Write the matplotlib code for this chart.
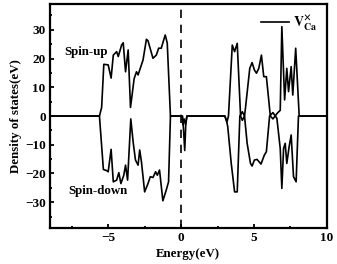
import matplotlib
matplotlib.use("Agg")
import matplotlib.pyplot as plt
from matplotlib.ticker import MultipleLocator

# spin-up DOS (energy in eV, states)
energy_up = [-9, -5.6, -5.45, -5.3, -5.0, -4.8, -4.65, -4.42, -4.31, -4.08, -3.97,
             -3.81, -3.63, -3.47, -3.22, -3.06, -2.95, -2.84, -2.61, -2.38, -2.27,
             -1.93, -1.7, -1.54, -1.36, -1.09, -0.95, -0.73, 0.05, 0.12, 0.2, 0.3,
             0.4, 3.0, 3.15, 3.25, 3.51, 3.67, 3.85, 4.08, 4.2, 4.35, 4.42, 4.71,
             4.87, 5.03, 5.17, 5.33, 5.51, 5.67, 5.85, 6.12, 6.3, 6.6, 6.8, 6.91,
             7.1, 7.25, 7.37, 7.55, 7.66, 7.86, 8.1, 10]
dos_up = [0, 0, 3, 18, 17.8, 13.2, 21.2, 22.4, 20.7, 24.7, 25.5,
          15.4, 23, 3, 13, 15.4, 14.3, 16, 19.5, 26.7, 26.2,
          20.1, 21.2, 23.6, 23.6, 28.2, 25.4, 0, 0, -3, -1, -3,
          0, 0, -2, 0, 24.7, 22.4, 25.3, 0, -1.5, 0, 3, 16.6,
          18.6, 16, 14.9, 16.6, 21.2, 13.7, 13.7, 0, -1, 1, 2, 31.1,
          5.6, 16.6, 8.5, 17.2, 7.3, 23.6, 0, 0]

# spin-down DOS
energy_down = [-9, -5.6, -5.33, -5.1, -5.0, -4.8, -4.65, -4.42, -4.27, -4.13, -3.93,
               -3.81, -3.67, -3.45, -3.29, -3.13, -2.95, -2.84, -2.72, -2.5, -2.27,
               -2.11, -1.93, -1.75, -1.63, -1.48, -1.25, -1.02, -0.86, -0.73, 0.1,
               0.17, 0.25, 0.32, 0.4, 3.0, 3.13, 3.2, 3.44, 3.67, 3.85, 4.03, 4.2,
               4.35, 4.53, 4.76, 4.87, 5.03, 5.21, 5.48, 5.71, 5.85, 6.07, 6.3, 6.57,
               6.8, 6.91, 7.03, 7.14, 7.25, 7.41, 7.55, 7.71, 7.89, 8.05, 10]
dos_down = [0, 0, -18.6, -19, -19.4, -11.6, -22.9, -22.3, -19.7, -23.5, -20.6,
            -17.1, -22.3, -1, -9, -15.3, -17.1, -11.8, -15.9, -26.4, -23.5,
            -21.1, -21.4, -19.4, -20.6, -18.8, -29.5, -25.8, -22.9, 0, 0,
            -5, -12, -3, 0, 0, -2, -3.7, -16.5, -26.4, -26.4, 0, 1.5,
            0, -9.5, -16.5, -17.4, -15.3, -15.1, -16.7, -13.6, -12.4, 0, 1.2, -0.8,
            -11.3, -25.2, -11.3, -9.5, -16.5, -10.7, -6.6, -21.1, -22.9, 0, 0]

plt.rcParams["font.family"] = "Liberation Serif"
plt.rcParams["font.weight"] = "bold"
plt.rcParams["mathtext.fontset"] = "stix"

fig = plt.figure(figsize=(3.37, 2.64), dpi=100)
ax = fig.add_axes([0.148, 0.136, 0.822, 0.849])

ax.plot(energy_up, dos_up, color="black", lw=1.2, label=r"$\mathbf{V_{Ca}^{\times}}$")
ax.plot(energy_down, dos_down, color="black", lw=1.2)
ax.axvline(0, color="black", lw=1.2, ls=(0, (5, 4)))

ax.set_xlim(-9, 10)
ax.set_ylim(-39, 39)
ax.xaxis.set_major_locator(MultipleLocator(5))
ax.xaxis.set_minor_locator(MultipleLocator(2.5))
ax.yaxis.set_major_locator(MultipleLocator(10))
ax.yaxis.set_minor_locator(MultipleLocator(5))
ax.tick_params(which="both", direction="in", labelsize=9.5, width=1.3, pad=3)
ax.tick_params(which="major", length=3)
ax.tick_params(which="minor", length=1.5)
for s in ax.spines.values():
    s.set_linewidth(1.6)

ax.set_xlabel("Energy(eV)", fontsize=9.3, fontweight="bold", labelpad=3)
ax.set_ylabel("Density of states(eV)", fontsize=9.3, fontweight="bold", labelpad=2)

ax.text(-6.5, 22.3, "Spin-up", fontsize=9.3, fontweight="bold", ha="center", va="center")
ax.text(-5.7, -26.1, "Spin-down", fontsize=9.3, fontweight="bold", ha="center", va="center")

ax.legend(loc="upper right", frameon=False, fontsize=10, handlelength=2.0,
          handletextpad=0.3, borderaxespad=0.3)

fig.savefig("out.png", dpi=100)
